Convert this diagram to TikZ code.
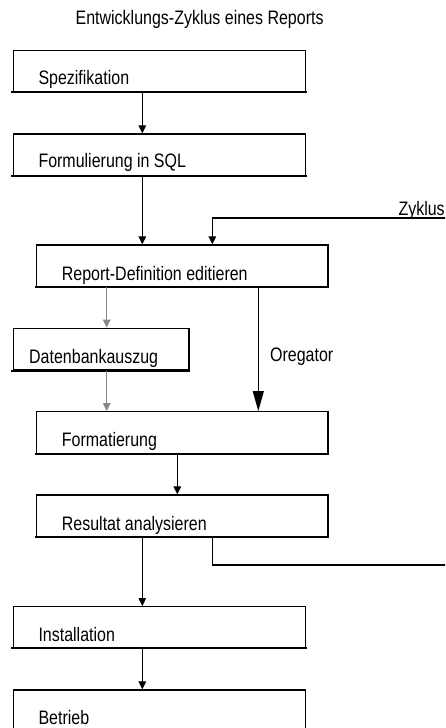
\documentclass[tikz,border=0pt]{standalone}
\usepackage{fontspec}
\setmainfont[FakeStretch=0.82]{Liberation Sans}
\usetikzlibrary{arrows.meta}
\definecolor{greyline}{HTML}{888888}
\begin{document}
\begin{tikzpicture}[x=1pt,y=-1pt,
  box/.style={draw, line width=1.3pt, inner sep=0pt, rectangle},
  lbl/.style={anchor=base west, inner sep=0pt, font=\fontsize{19.5}{22}\selectfont},
  arr/.style={line width=1pt, -{Triangle[length=8pt,width=7.5pt]}},
  garr/.style={draw=greyline, line width=1pt, -{Triangle[length=8pt,width=7.5pt]}, greyline},
  bigarr/.style={line width=1.2pt, -{Triangle[length=20pt,width=11pt]}},
  loopline/.style={line width=1.6pt}]
\useasboundingbox (0,0) rectangle (445,728);
\clip (0,0) rectangle (445,728);

% column coordinates
\coordinate (xA) at (142.3,0);
\coordinate (xB) at (212.3,0);
\coordinate (xG) at (106.7,0);
\coordinate (xO) at (258.3,0);
\coordinate (xF) at (177.3,0);

% title
\node[anchor=base, inner sep=0pt, font=\fontsize{19.5}{22}\selectfont] (title) at (199.6,24) {Entwicklungs-Zyklus eines Reports};

% boxes
\node[box, minimum width=292.4pt, minimum height=41pt]   (spez)    at (159.5,71.2) {};
\node[box, minimum width=292.4pt, minimum height=41.7pt] (form)    at (159.5,154.85) {};
\node[box, minimum width=291.3pt, minimum height=41.7pt] (report)  at (182.35,265.85) {};
\node[box, minimum width=175.7pt, minimum height=41.7pt] (daten)   at (101.15,349.15) {};
\node[box, minimum width=291.3pt, minimum height=41.6pt] (format)  at (182.35,432.5) {};
\node[box, minimum width=291.3pt, minimum height=41.7pt] (result)  at (182.35,515.85) {};
\node[box, minimum width=292.4pt, minimum height=41pt]   (install) at (159.5,627.2) {};
\node[box, minimum width=292.4pt, minimum height=41pt]   (betrieb) at (159.5,710.5) {};

\foreach \n in {spez,form,report,daten,format,result,install,betrieb}
  \draw[line width=2pt] ([xshift=-1.5pt]\n.south west) -- ([xshift=0.6pt]\n.south east);

% labels
\node[lbl] (tspez)    at (38.3,84)    {Spezifikation};
\node[lbl] (tform)    at (38.3,167)   {Formulierung in SQL};
\node[lbl] (treport)  at (61.7,280)   {Report-Definition editieren};
\node[lbl] (tdaten)   at (29,363.3)   {Datenbankauszug};
\node[lbl] (tformat)  at (61.7,446.7) {Formatierung};
\node[lbl] (tresult)  at (61.7,530)   {Resultat analysieren};
\node[lbl] (tinstall) at (38.3,641.7) {Installation};
\node[lbl] (tbetrieb) at (38.3,724.8) {Betrieb};
\node[lbl] (toreg)    at (270,361.7)  {Oregator};
\node[lbl] (tzyk)     at (398.3,215.5) {Zyklus};

% connectors
\coordinate (zykR) at (446,217.7);
\coordinate (retR) at (446,565);
\coordinate (retC) at (212.3,565);

\draw[arr] (spez.south -| xA) -- (form.north -| xA);
\draw[arr] (form.south -| xA) -- (report.north -| xA);
\draw[loopline] (zykR) -- (xB |- zykR);
\draw[arr] (xB |- zykR) -- (report.north -| xB);
\draw[garr] (report.south -| xG) -- (daten.north -| xG);
\draw[garr] (daten.south -| xG) -- (format.north -| xG);
\draw[bigarr] (report.south -| xO) -- (format.north -| xO);
\draw[arr] (format.south -| xF) -- (result.north -| xF);
\draw[line width=1.2pt] (result.south -| xB) -- (retC);
\draw[loopline] (retC) -- (retR);
\draw[arr] (result.south -| xA) -- (install.north -| xA);
\draw[arr] (install.south -| xA) -- (betrieb.north -| xA);
\end{tikzpicture}
\end{document}
